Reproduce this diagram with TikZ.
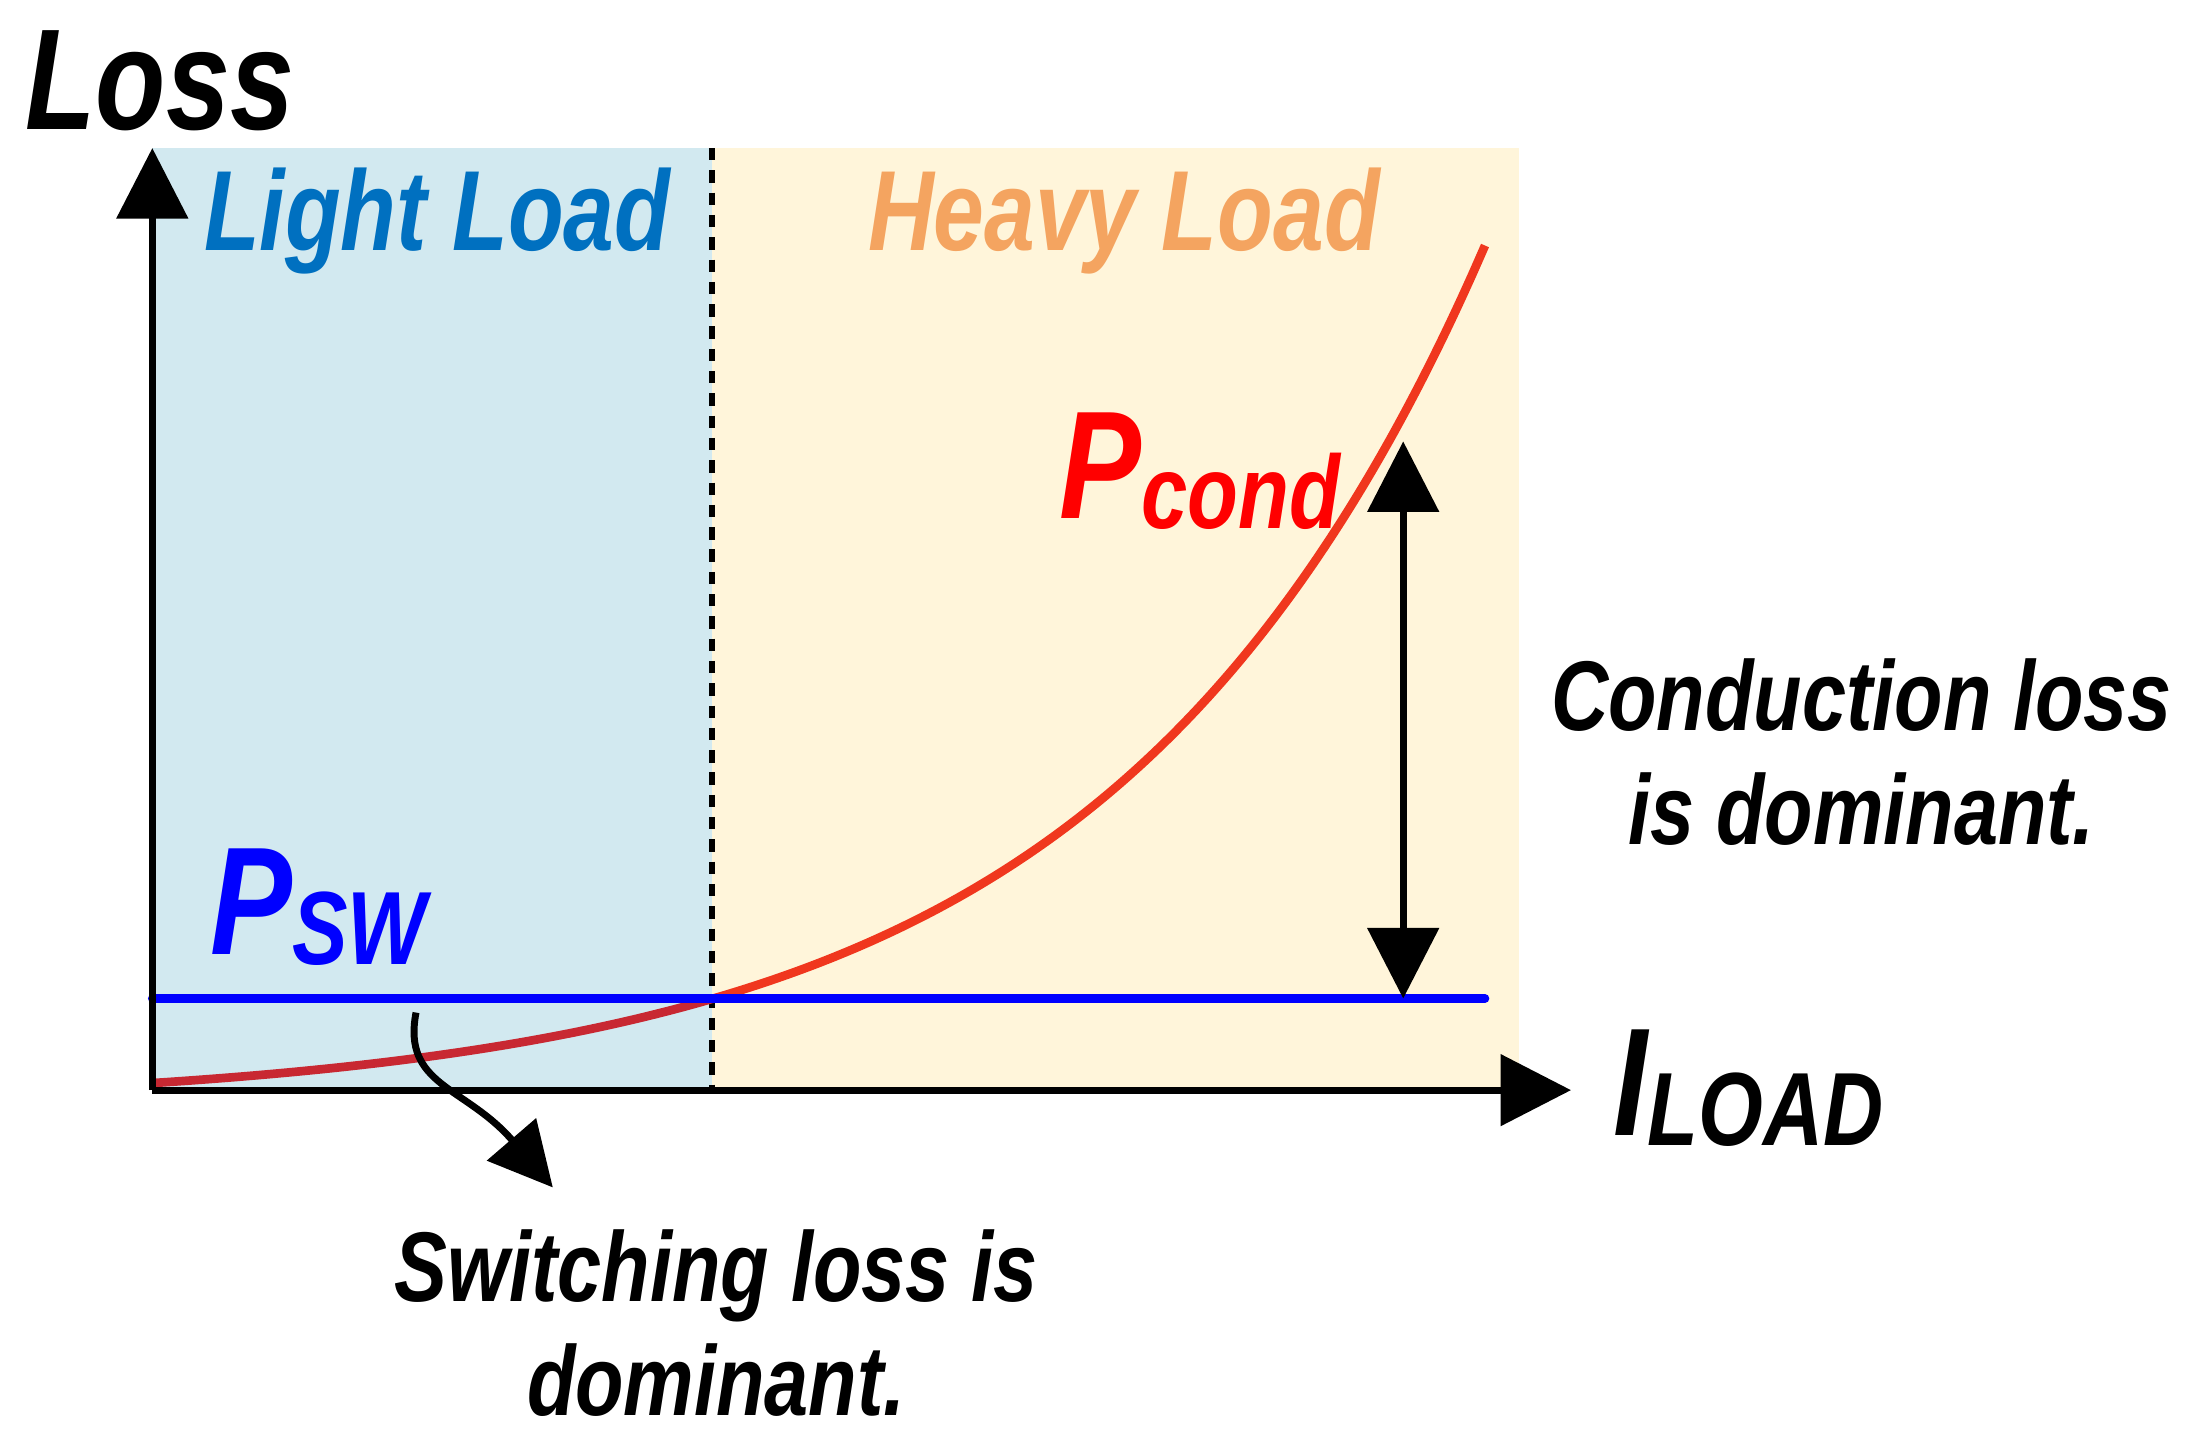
\documentclass[tikz,border=0pt]{standalone}
\usepackage{fontspec}
\setmainfont{Liberation Sans}[FakeStretch=0.8]
\usetikzlibrary{arrows.meta}
\definecolor{lightbg}{RGB}{210,233,240}
\definecolor{heavybg}{RGB}{255,245,218}
\definecolor{lightc}{RGB}{0,112,192}
\definecolor{heavyc}{RGB}{244,164,96}
\definecolor{curvec}{RGB}{240,55,30}
\definecolor{curved}{RGB}{200,40,50}
\begin{document}
\begin{tikzpicture}[x=0.02cm,y=-0.02cm,
  lbl/.style={font=\bfseries\itshape\fontsize{40}{46}\selectfont},
  big/.style={-{Triangle[length=1cm,width=1cm]},line width=2.8pt},
  dbl/.style={{Triangle[length=1cm,width=1cm]}-{Triangle[length=1cm,width=1cm]},line width=2.8pt}]
\useasboundingbox (0,0) rectangle (1560,1017);
\fill[lightbg] (108,105) rectangle (505,773);
\fill[heavybg] (505,105) rectangle (1077,773);
\draw[line width=2.5pt,dash pattern=on 5pt off 4pt] (505,105) -- (505,773);
\coordinate (o) at (108,773);
\coordinate (ytop) at (108,105);
\coordinate (xend) at (1114,773);
\draw[curved,line width=3.5pt] plot[domain=108:505,samples=40,smooth] (\x,{768-17.1*(exp(0.00378*(\x-108))-1)});
\draw[curvec,line width=3.5pt] plot[domain=505:1053,samples=60,smooth] (\x,{768-17.1*(exp(0.00378*(\x-108))-1)});
\draw[blue,line width=3.5pt,line cap=round] (108,708) -- (1053,708);
\draw[big] (o) -- (ytop);
\draw[big] (o) -- (xend);
\coordinate (c1) at (995,313);
\coordinate (c2) at (995,708);
\draw[dbl] (c1) -- (c2);
\coordinate (s1) at (295,718);
\coordinate (s2) at (392,842);
\draw[-{Triangle[length=0.9cm,width=0.9cm]},line width=2.8pt] (s1) .. controls (285,770) and (330,770) .. (s2);
\node[lbl,font=\bfseries\itshape\fontsize{58}{60}\selectfont,anchor=west] (loss) at (12,57) {Loss};
\node[lbl,font=\bfseries\itshape\fontsize{46}{50}\selectfont,text=lightc] (ll) at (310,157) {Light Load};
\node[lbl,font=\bfseries\itshape\fontsize{46}{50}\selectfont,text=heavyc] (hl) at (797,157) {Heavy Load};
\node[lbl,text=red,anchor=base west] (pc) at (745,368) {\fontsize{62}{64}\selectfont P\fontsize{42}{44}\selectfont\raisebox{-4pt}{cond}};
\node[lbl,text=blue,anchor=base west] (ps) at (143,677) {\fontsize{62}{64}\selectfont P\fontsize{42}{44}\selectfont\raisebox{-4pt}{SW}};
\node[lbl,anchor=base west] (il) at (1138,805) {\fontsize{62}{64}\selectfont I\fontsize{42}{44}\selectfont\raisebox{-4pt}{LOAD}};
\node[lbl,align=center] (cl) at (1320,533) {Conduction loss\\is dominant.};
\node[lbl,align=center] (sl) at (508,938) {Switching loss is\\dominant.};
\end{tikzpicture}
\end{document}
